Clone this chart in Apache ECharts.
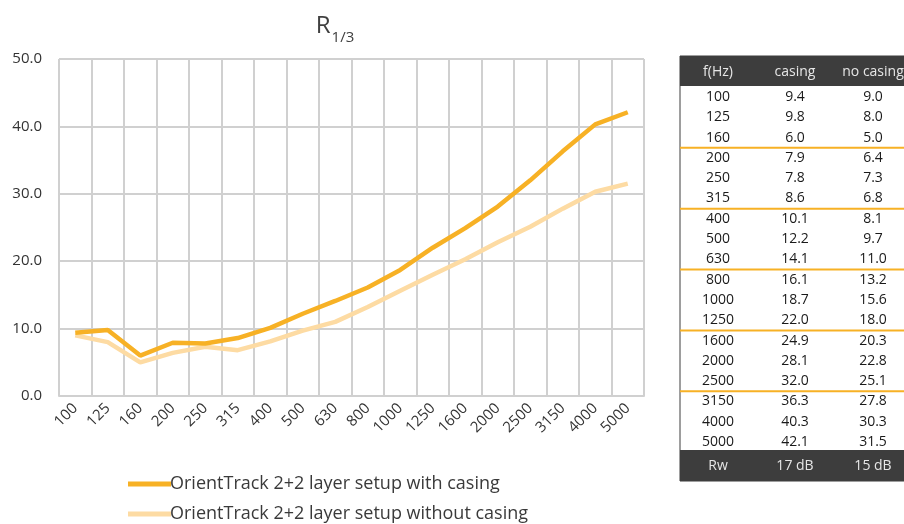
<!DOCTYPE html>
<html>
<head>
<meta charset="utf-8">
<script src="https://cdn.jsdelivr.net/npm/echarts@6/dist/echarts.min.js"></script>
<style>
  html, body { margin: 0; padding: 0; background: #fff; }
  #chart { width: 904px; height: 524px; }
</style>
</head>
<body>
<div id="chart"></div>
<script>
// Third-octave band centre frequencies (Hz)
const frequencies = ['100', '125', '160', '200', '250', '315', '400', '500', '630',
  '800', '1000', '1250', '1600', '2000', '2500', '3150', '4000', '5000'];

// Sound reduction per band (dB)
const withCasing = [9.4, 9.8, 6.0, 7.9, 7.8, 8.6, 10.1, 12.2, 14.1,
  16.1, 18.7, 22.0, 24.9, 28.1, 32.0, 36.3, 40.3, 42.1];
const withoutCasing = [9.0, 8.0, 5.0, 6.4, 7.3, 6.8, 8.1, 9.7, 11.0,
  13.2, 15.6, 18.0, 20.3, 22.8, 25.1, 27.8, 30.3, 31.5];

// Single-number ratings
const rwWithCasing = '17 dB';
const rwWithoutCasing = '15 dB';

const seriesNames = ['OrientTrack 2+2 layer setup with casing',
  'OrientTrack 2+2 layer setup without casing'];
const tableHeader = ['f(Hz)', 'casing', 'no casing'];

const FONT = '"Open Sans", "Noto Sans", sans-serif';
const ORANGE = '#F7B125';
const PEACH = '#FDDBA3';

// --- side table built from the same arrays ---
const tableLeft = 680, tableRight = 912;
const colX = [718, 795, 873];
const headerTop = 56, headerBottom = 86;
const rowTop = 97, rowStep = 20.3;
const footerTop = 450, footerBottom = 481;

const tableGraphics = [];
tableGraphics.push({
  type: 'rect', shape: { x: tableLeft, y: headerTop, width: tableRight - tableLeft, height: footerBottom - headerTop },
  style: { fill: '#fff', stroke: '#3d3d3d', lineWidth: 1 }, z: 1
});
tableGraphics.push({
  type: 'rect', shape: { x: tableLeft, y: headerTop, width: tableRight - tableLeft, height: headerBottom - headerTop },
  style: { fill: '#3d3d3d' }, z: 2
});
tableGraphics.push({
  type: 'rect', shape: { x: tableLeft, y: footerTop, width: tableRight - tableLeft, height: footerBottom - footerTop },
  style: { fill: '#3d3d3d' }, z: 2
});
tableHeader.forEach((t, j) => {
  tableGraphics.push({
    type: 'text', x: colX[j], y: (headerTop + headerBottom) / 2 + 1, z: 3,
    style: { text: t, fill: '#e6e6e6', font: '14px ' + FONT, align: 'center', verticalAlign: 'middle' }
  });
});
frequencies.forEach((f, i) => {
  const y = rowTop + i * rowStep;
  [f, withCasing[i].toFixed(1), withoutCasing[i].toFixed(1)].forEach((t, j) => {
    tableGraphics.push({
      type: 'text', x: colX[j], y: y, z: 3,
      style: { text: t, fill: '#1a1a1a', font: '14px ' + FONT, align: 'center', verticalAlign: 'middle' }
    });
  });
  if (i % 3 === 2 && i < frequencies.length - 1) {
    const ly = y + rowStep / 2;
    tableGraphics.push({
      type: 'line', z: 3, shape: { x1: tableLeft, y1: ly, x2: tableRight, y2: ly },
      style: { stroke: ORANGE, lineWidth: 2 }
    });
  }
});
['Rw', rwWithCasing, rwWithoutCasing].forEach((t, j) => {
  tableGraphics.push({
    type: 'text', x: colX[j], y: (footerTop + footerBottom) / 2 + 1, z: 3,
    style: { text: t, fill: '#e6e6e6', font: '14px ' + FONT, align: 'center', verticalAlign: 'middle' }
  });
});

// One legend block per series, stacked under the plot
const legendBase = {
  orient: 'vertical', left: 123,
  icon: 'rect', itemWidth: 43, itemHeight: 5,
  textStyle: { fontSize: 18, color: '#3a3a3a', fontFamily: FONT, padding: [0, 0, 0, -6] }
};

const chart = echarts.init(document.getElementById('chart'), null, { renderer: 'canvas' });
chart.setOption({
  animation: false,
  backgroundColor: '#fff',
  title: {
    text: '{r|R}{s|1/3}',
    left: 330, top: 9, textAlign: 'center',
    textStyle: {
      fontWeight: 'normal',
      rich: {
        r: { fontSize: 24, fontWeight: 'normal', color: '#404040', fontFamily: FONT, verticalAlign: 'bottom' },
        s: { fontSize: 15, fontWeight: 'normal', color: '#404040', fontFamily: FONT, verticalAlign: 'bottom', padding: [0, 0, -7, 1] }
      }
    }
  },
  grid: { left: 59, right: 260, top: 59, bottom: 128, containLabel: false },
  legend: [
    Object.assign({}, legendBase, { top: 470, data: [seriesNames[0]] }),
    Object.assign({}, legendBase, { top: 500, data: [seriesNames[1]] })
  ],
  xAxis: {
    type: 'category', data: frequencies, boundaryGap: true,
    axisLine: { show: true, lineStyle: { color: '#d0d0d0', width: 2 } },
    axisTick: { show: false },
    splitLine: { show: true, lineStyle: { color: '#d0d0d0', width: 2 } },
    axisLabel: { rotate: 45, fontSize: 15, color: '#333', fontFamily: FONT, margin: 10, interval: 0 }
  },
  yAxis: {
    type: 'value', min: 0, max: 50, interval: 10,
    axisLine: { show: false }, axisTick: { show: false },
    splitLine: { lineStyle: { color: '#d0d0d0', width: 2 } },
    axisLabel: { fontSize: 15, color: '#333', fontFamily: FONT, margin: 17, formatter: v => v.toFixed(1) }
  },
  series: [
    {
      name: seriesNames[0], type: 'line', data: withCasing, showSymbol: false,
      lineStyle: { color: ORANGE, width: 4.5 }, itemStyle: { color: ORANGE }, z: 3
    },
    {
      name: seriesNames[1], type: 'line', data: withoutCasing, showSymbol: false,
      lineStyle: { color: PEACH, width: 4.5 }, itemStyle: { color: PEACH }, z: 2
    }
  ],
  graphic: tableGraphics
});
</script>
</body>
</html>
